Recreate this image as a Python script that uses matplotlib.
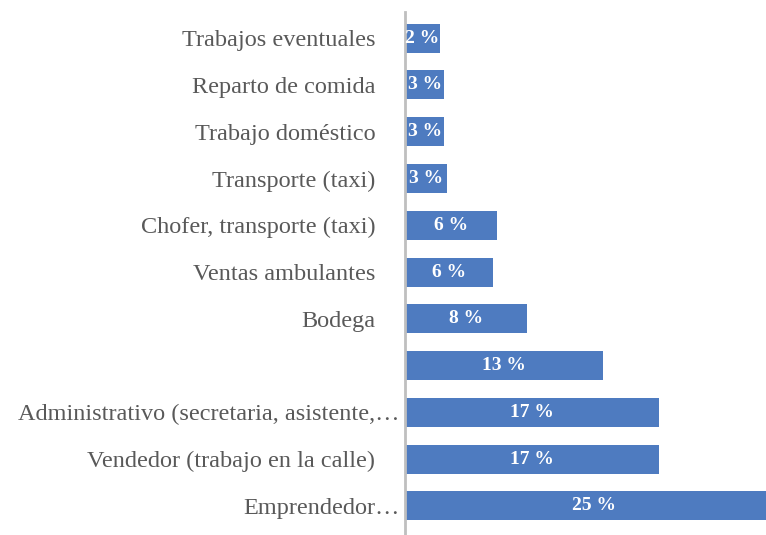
import matplotlib
matplotlib.use('Agg')
import matplotlib.pyplot as plt
import matplotlib.transforms as mtransforms

# categorias de arriba hacia abajo
categorias = [
    'Trabajos eventuales',
    'Reparto de comida',
    'Trabajo doméstico',
    'Transporte (taxi)',
    'Chofer, transporte (taxi)',
    'Ventas ambulantes',
    'Bodega',
    '',
    'Administrativo (secretaria, asistente,…',
    'Vendedor (trabajo en la calle)',
    'Emprendedor…',
]
valores = [2.3, 2.6, 2.6, 2.8, 6.1, 5.8, 8.1, 13.1, 16.8, 16.8, 25.0]
etiquetas = ['2 %', '3 %', '3 %', '3 %', '6 %', '6 %', '8 %', '13 %', '17 %', '17 %', '25 %']

plt.rcParams['font.family'] = ['Liberation Serif', 'DejaVu Serif']

fig = plt.figure(figsize=(7.66, 5.35), dpi=100)
ax = fig.add_axes([405 / 766, 0, 1 - 405 / 766, 523 / 535])

n = len(categorias)
pos = list(range(n - 1, -1, -1))
ax.barh(pos, valores, height=0.62, color='#4E7BC0')

for p, v, t in zip(pos, valores, etiquetas):
    ax.text(v / 2, p, t, ha='center', va='center', color='white',
            fontsize=14, fontweight='bold', clip_on=True)

ax.set_xlim(0, 23.9)
ax.set_ylim(-0.62, n - 1 + 0.56)
ax.set_yticks(pos)
ax.set_yticklabels(categorias, fontsize=17.5, color='#595959')
ax.tick_params(axis='y', length=0, pad=4)
ax.set_xticks([])

# las etiquetas completas quedan mas separadas del eje que las recortadas
for lab in ax.get_yticklabels():
    if not lab.get_text().endswith('…'):
        off = mtransforms.ScaledTranslation(-24 / 100, 0, fig.dpi_scale_trans)
        lab.set_transform(lab.get_transform() + off)

for s in ['top', 'right', 'bottom']:
    ax.spines[s].set_visible(False)
ax.spines['left'].set_color('#BFBFBF')
ax.spines['left'].set_linewidth(2)

fig.savefig('out.png', dpi=100)
